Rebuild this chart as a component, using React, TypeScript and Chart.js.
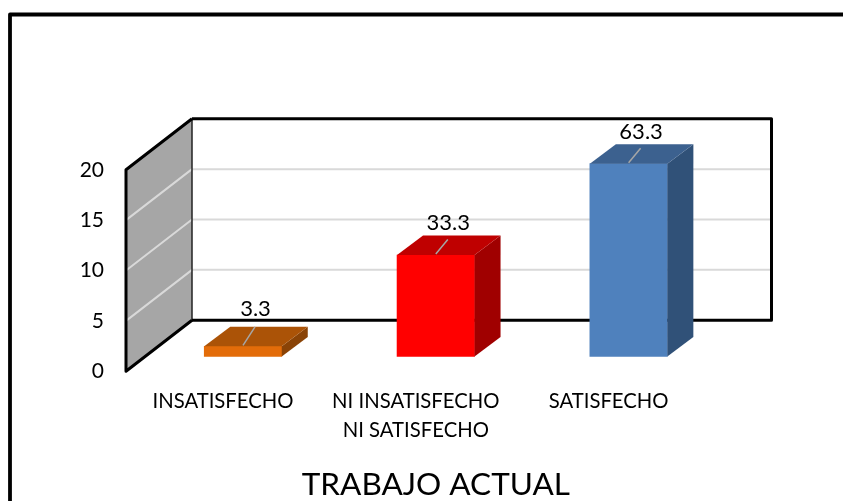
import React, { useEffect, useRef } from "react";
import { Chart, registerables } from "chart.js";

Chart.register(...registerables);

const categories: (string | string[])[] = ["INSATISFECHO", ["NI INSATISFECHO", "NI SATISFECHO"], "SATISFECHO"];
const counts = [1, 10, 19];
const percentLabels = ["3.3", "33.3", "63.3"];
const frontColors = ["#e36c09", "#ff0000", "#4f81bd"];
const topColors = ["#ab5307", "#bf0000", "#3c618f"];
const sideColors = ["#8a4306", "#a00000", "#305178"];
const labelLift = [18, 13, 12.5];
const chartTitle = "TRABAJO ACTUAL";

const DEPTH_X = 66;
const DEPTH_Y = 51;
const BAR_DX = 26;
const BAR_DY = 19.5;
const FONT = "Lato";

function poly(ctx: CanvasRenderingContext2D, pts: number[][], fill: string) {
  ctx.beginPath();
  pts.forEach(([x, y], i) => (i ? ctx.lineTo(x, y) : ctx.moveTo(x, y)));
  ctx.closePath();
  ctx.fillStyle = fill;
  ctx.fill();
}

function line(ctx: CanvasRenderingContext2D, pts: number[][], color: string, w: number) {
  ctx.beginPath();
  pts.forEach(([x, y], i) => (i ? ctx.lineTo(x, y) : ctx.moveTo(x, y)));
  ctx.strokeStyle = color;
  ctx.lineWidth = w;
  ctx.lineJoin = "round";
  ctx.stroke();
}

const frame3d = {
  id: "frame3d",
  beforeDatasetsDraw(chart: any) {
    const { ctx } = chart;
    const y = chart.scales.y;
    const fx = 126;
    const bx = fx + DEPTH_X;
    const rx = 771.5;
    const y0 = y.getPixelForValue(0);
    const y20 = y.getPixelForValue(20);
    ctx.save();
    // outer picture frame
    line(ctx, [[10, 501], [10, 14.5], [843, 14.5]], "#000000", 3.8);
    // side wall
    poly(ctx, [[fx, y0], [fx, y20], [bx, y20 - DEPTH_Y], [bx, y0 - DEPTH_Y]], "#a6a6a6");
    // gridlines
    [5, 10, 15].forEach((v) => {
      const p = y.getPixelForValue(v);
      line(ctx, [[fx, p], [bx, p - DEPTH_Y], [rx, p - DEPTH_Y]], "#d9d9d9", 2);
    });
    // back wall outline and side wall outline
    line(ctx, [[bx, y20 - DEPTH_Y], [bx, y0 - DEPTH_Y]], "#222222", 1.5);
    line(ctx, [[bx, y0 - DEPTH_Y], [rx, y0 - DEPTH_Y], [rx, y20 - DEPTH_Y], [bx, y20 - DEPTH_Y]], "#000000", 3);
    line(ctx, [[bx, y20 - DEPTH_Y], [fx, y20], [fx, y0], [bx, y0 - DEPTH_Y]], "#000000", 3);
    ctx.restore();
  },
  afterDatasetsDraw(chart: any) {
    const { ctx } = chart;
    const meta = chart.getDatasetMeta(0);
    ctx.save();
    meta.data.forEach((bar: any, i: number) => {
      const { x, y, base, width } = bar.getProps(["x", "y", "base", "width"], true);
      const l = x - width / 2;
      const r = x + width / 2;
      poly(ctx, [[r, y], [r + BAR_DX, y - BAR_DY], [r + BAR_DX, base - BAR_DY], [r, base]], sideColors[i]);
      poly(ctx, [[l, y], [l + BAR_DX, y - BAR_DY], [r + BAR_DX, y - BAR_DY], [r, y]], topColors[i]);
      const topBack = y - BAR_DY;
      const lift = labelLift[i];
      line(ctx, [[x, y - 1], [x + 12, topBack + (lift > 15 ? 0 : 4)]], "#a6a6a6", 1.5);
      ctx.fillStyle = "#000000";
      ctx.font = `22px ${FONT}`;
      ctx.textAlign = "center";
      ctx.textBaseline = "middle";
      ctx.fillText(percentLabels[i], x + 12.5, topBack - lift);
    });
    ctx.restore();
  },
};

export default function App() {
  const ref = useRef<HTMLCanvasElement>(null);
  useEffect(() => {
    const chart = new Chart(ref.current!, {
      type: "bar",
      data: {
        labels: categories as any,
        datasets: [
          {
            data: counts,
            yAxisID: "yBars",
            backgroundColor: frontColors,
            borderWidth: 0,
            barThickness: 77.5,
            clip: false as any,
          },
        ],
      },
      options: {
        responsive: false,
        animation: false,
        layout: { padding: { left: 0, right: 118, top: 118, bottom: -3 } },
        plugins: {
          legend: { display: false },
          tooltip: { enabled: false },
          title: {
            display: true,
            text: chartTitle,
            position: "bottom",
            fullSize: false,
            color: "#000000",
            font: { family: FONT, size: 31.5, weight: "normal" },
            padding: { top: 0, bottom: 0 },
          },
        },
        scales: {
          x: {
            grid: { display: false },
            border: { display: false },
            afterFit(s: any) {
              s.height = 95;
            },
            ticks: {
              color: "#000000",
              font: { family: FONT, size: 20.3, lineHeight: 1.43 },
              maxRotation: 0,
              autoSkip: false,
              padding: 8,
              labelOffset: -20,
            },
          },
          y: {
            min: 0,
            max: 25.14,
            grid: { display: false, drawTicks: false },
            border: { display: false },
            afterFit(s: any) {
              s.width = 146.6;
            },
            ticks: {
              stepSize: 5,
              includeBounds: false,
              padding: 42.6,
              color: "#000000",
              font: { family: FONT, size: 21 },
              callback: (v: any) => (v <= 20 ? String(v) : ""),
            },
          },
          yBars: { display: false, min: -1.446, max: 23.5 },
        },
      },
      plugins: [frame3d],
    });
    return () => chart.destroy();
  }, []);
  return (
    <canvas
      ref={ref}
      width={843}
      height={501}
      style={{ position: "absolute", left: 0, top: 0, width: 843, height: 501 }}
    />
  );
}
